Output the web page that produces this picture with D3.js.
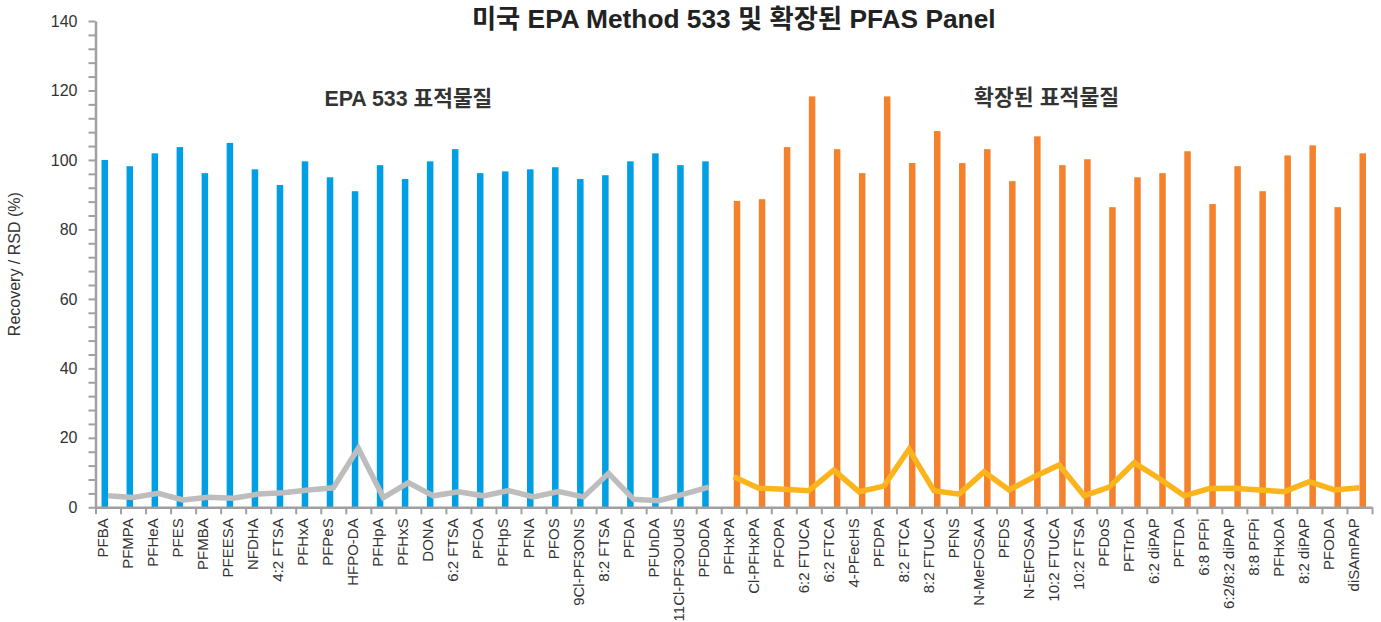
<!DOCTYPE html>
<html>
<head>
<meta charset="utf-8">
<script src="https://cdn.jsdelivr.net/npm/d3@7/dist/d3.min.js"></script>
<style>
  html, body { margin: 0; padding: 0; background: #ffffff; }
  svg { display: block; }
  text { font-family: "Liberation Sans", Arial, "Noto Sans CJK KR", sans-serif; }
</style>
</head>
<body>
<svg id="chart" width="1381" height="622"></svg>
<script>
// ---- data ----
const epaCategories = ["PFBA","PFMPA","PFHeA","PFES","PFMBA","PFEESA","NFDHA","4:2 FTSA","PFHxA","PFPeS","HFPO-DA","PFHpA","PFHxS","DONA","6:2 FTSA","PFOA","PFHpS","PFNA","PFOS","9Cl-PF3ONS","8:2 FTSA","PFDA","PFUnDA","11Cl-PF3OUdS","PFDoDA"];
const extCategories = ["PFHxPA","Cl-PFHxPA","PFOPA","6:2 FTUCA","6:2 FTCA","4-PFecHS","PFDPA","8:2 FTCA","8:2 FTUCA","PFNS","N-MeFOSAA","PFDS","N-EtFOSAA","10:2 FTUCA","10:2 FTSA","PFDoS","PFTrDA","6:2 diPAP","PFTDA","6:8 PFPi","6:2/8:2 diPAP","8:8 PFPi","PFHxDA","8:2 diPAP","PFODA","diSAmPAP"];
const epaRecovery = [100,98.2,101.9,103.7,96.2,104.9,97.3,92.8,99.6,95.0,91.0,98.5,94.5,99.6,103.1,96.2,96.7,97.3,97.9,94.5,95.6,99.6,101.9,98.5,99.6];
const extRecovery = [88.2,88.7,103.7,118.3,103.1,96.2,118.3,99.1,108.3,99.1,103.1,93.9,106.8,98.5,100.2,86.4,95.0,96.2,102.5,87.3,98.2,91.0,101.3,104.2,86.4,101.9];
const epaRSD = [3.3,2.8,4.0,2.1,2.9,2.6,3.8,4.2,5.0,5.6,17.0,2.8,7.1,3.3,4.5,3.3,4.8,3.0,4.5,3.0,9.8,2.3,1.9,3.8,5.8];
const extRSD = [8.8,5.5,5.2,4.8,10.7,4.5,6.1,16.7,4.8,3.8,10.2,5.0,8.8,12.2,3.3,5.8,12.8,8.3,3.3,5.4,5.5,5.0,4.5,7.4,5.0,5.6];
const yTicks = [0,20,40,60,80,100,120,140];
const titleText = "미국 EPA Method 533 및 확장된 PFAS Panel";
const yLabel = "Recovery / RSD (%)";
const groupLabels = ["EPA 533 표적물질", "확장된 표적물질"];

// ---- layout ----
const svg = d3.select("#chart");
const mLeft = 95.5, mRight = 1372, mTop = 21, mBottom = 507.3;
const allCats = epaCategories.concat(extCategories);

const x = d3.scaleBand().domain(allCats).range([mLeft, mRight]).paddingInner(0).paddingOuter(0);
const xSub = d3.scaleBand().domain(["epa","ext"]).range([x.bandwidth()*0.24, x.bandwidth()*0.76]);
const xIdx = d3.scaleLinear().domain([0, allCats.length]).range([mLeft, mRight]);
const y = d3.scaleLinear().domain([0, 140]).range([mBottom, mTop]);

const axisColor = "#a0a0a0";
const textColor = "#333333";

// bars
svg.append("g").selectAll("rect").data(epaCategories).join("rect")
  .attr("x", d => x(d) + xSub("epa"))
  .attr("width", xSub.bandwidth())
  .attr("y", (d,i) => y(epaRecovery[i]))
  .attr("height", (d,i) => y(0) - y(epaRecovery[i]))
  .attr("fill", "#009FE3");
svg.append("g").selectAll("rect").data(extCategories).join("rect")
  .attr("x", d => x(d) + xSub("ext"))
  .attr("width", xSub.bandwidth())
  .attr("y", (d,i) => y(extRecovery[i]))
  .attr("height", (d,i) => y(0) - y(extRecovery[i]))
  .attr("fill", "#F4822D");

// lines
const line = d3.line().x(d => x(d[0]) + x.bandwidth()/2).y(d => y(d[1]));
svg.append("path").datum(epaCategories.map((c,i) => [c, epaRSD[i]]))
  .attr("d", line).attr("fill","none").attr("stroke","#BDBDBD").attr("stroke-width",5.5).attr("stroke-linejoin","miter");
svg.append("path").datum(extCategories.map((c,i) => [c, extRSD[i]]))
  .attr("d", line).attr("fill","none").attr("stroke","#FCB41C").attr("stroke-width",5.5).attr("stroke-linejoin","miter");

// y axis
const yAxis = d3.axisLeft(y).tickValues(d3.range(0, 141, 4))
  .tickFormat(d => yTicks.includes(d) ? d : "").tickSize(7).tickPadding(11).tickSizeOuter(0);
const gy = svg.append("g").attr("transform", `translate(${mLeft},0)`).call(yAxis);
gy.select(".domain").attr("stroke", axisColor).attr("stroke-width", 2.5);
gy.selectAll(".tick line").attr("stroke", axisColor).attr("stroke-width", 2);
gy.selectAll(".tick text").attr("fill", textColor).style("font-size", "16px").style("font-family", "'Liberation Sans', Arial, sans-serif");

// x axis ticks (boundaries)
const xTickAxis = d3.axisBottom(xIdx).tickValues(d3.range(0, allCats.length + 1)).tickFormat("").tickSize(7).tickSizeOuter(0);
const gx = svg.append("g").attr("transform", `translate(0,${mBottom})`).call(xTickAxis);
gx.select(".domain").attr("stroke", axisColor).attr("stroke-width", 2.5);
gx.selectAll(".tick line").attr("stroke", axisColor).attr("stroke-width", 2);

// x labels
const xLabelAxis = d3.axisBottom(x).tickSize(0).tickPadding(0);
const gxl = svg.append("g").attr("transform", `translate(0,${mBottom})`).call(xLabelAxis);
gxl.select(".domain").remove();
gxl.selectAll(".tick text")
  .attr("transform", "rotate(-90)")
  .attr("text-anchor", "end")
  .attr("x", -11)
  .attr("y", 0)
  .attr("dy", "0em")
  .attr("fill", textColor)
  .style("font-size", "15px")
  .style("font-family", "'Liberation Sans', Arial, sans-serif");

// y label
svg.append("text")
  .attr("transform", `translate(20,${(mTop+mBottom)/2}) rotate(-90)`)
  .attr("text-anchor", "middle")
  .attr("fill", textColor)
  .style("font-size", "16px")
  .text(yLabel);

// title
svg.append("text")
  .attr("x", (mLeft + mRight)/2).attr("y", 28)
  .attr("text-anchor", "middle")
  .attr("fill", "#222")
  .style("font-size", "26.3px").style("font-weight", "bold")
  .text(titleText);

// group labels
const epaMid = (x(epaCategories[0]) + x(epaCategories[epaCategories.length-1]) + x.bandwidth())/2;
const extMid = (x(extCategories[0]) + x(extCategories[extCategories.length-1]) + x.bandwidth())/2;
svg.append("text").attr("x", epaMid).attr("y", y(115.5)).attr("text-anchor","middle")
  .attr("fill", textColor).style("font-size","21.4px").style("font-weight","bold").text(groupLabels[0]);
svg.append("text").attr("x", extMid).attr("y", y(115.8)).attr("text-anchor","middle")
  .attr("fill", textColor).style("font-size","21.6px").style("font-weight","bold").text(groupLabels[1]);
</script>
</body>
</html>
